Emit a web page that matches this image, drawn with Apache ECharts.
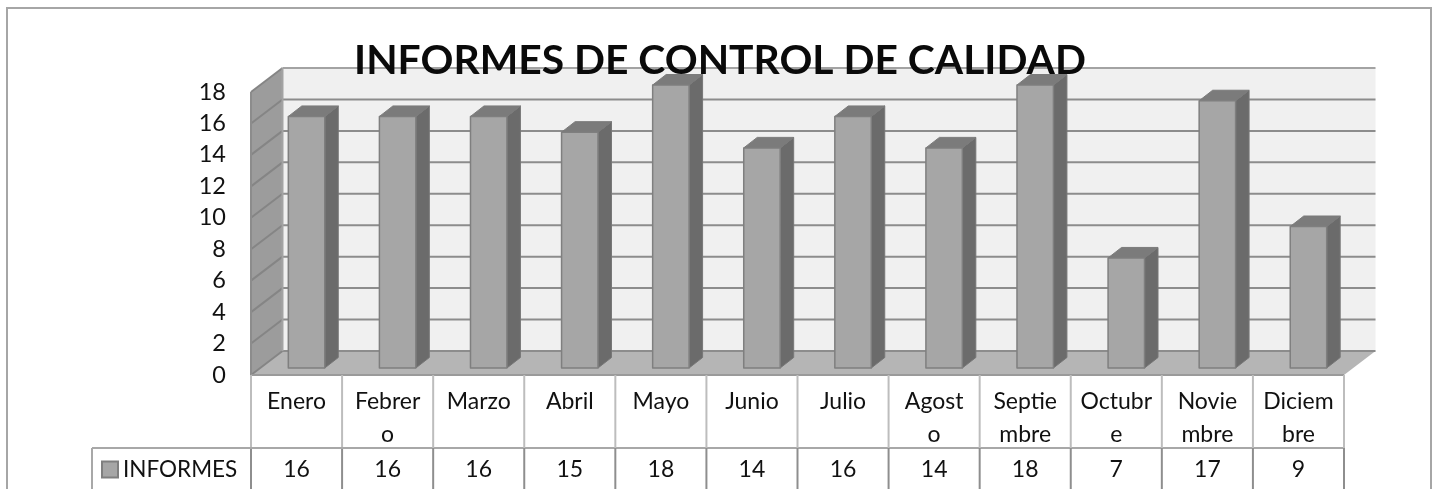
<!DOCTYPE html>
<html>
<head>
<meta charset="utf-8">
<style>html,body{margin:0;padding:0;background:#fff;overflow:hidden}#c{width:1439px;height:489px}</style>
<script src="https://cdn.jsdelivr.net/npm/echarts@6/dist/echarts.min.js"></script>
</head>
<body>
<div id="c"></div>
<script>
const chartTitle = 'INFORMES DE CONTROL DE CALIDAD';
const seriesName = 'INFORMES';
const categories = ['Enero','Febrer\no','Marzo','Abril','Mayo','Junio','Julio','Agost\no','Septie\nmbre','Octubr\ne','Novie\nmbre','Diciem\nbre'];
const informes = [16,16,16,15,18,14,16,14,18,7,17,9];
const yTicks = [0,2,4,6,8,10,12,14,16,18];

const FONT = 'Lato, sans-serif';
const WALL = {dx:31.5, dy:-24};
const BAR = {dx:13.5, dy:-10.5, ox:10, oy:-7, width:0.4};
const TABLE = {row:73, left:92};

const chart = echarts.init(document.getElementById('c'), null, {renderer:'canvas'});

function wallsItem(params, api){
  const w = api.size([1,0])[0];
  const xL = api.coord([0,0])[0] - w/2;
  const xR = api.coord([categories.length-1,0])[0] + w/2;
  const y = v => api.coord([0,v])[1];
  const y0 = y(0), yT = y(18);
  const poly = (pts, fill, stroke, lw) => ({type:'polygon', shape:{points:pts}, style:{fill, stroke:stroke||null, lineWidth:lw||0}});
  const line = (x1,y1,x2,y2,c,lw) => ({type:'line', shape:{x1,y1,x2,y2}, style:{stroke:c, lineWidth:lw||2}});
  const ch = [];
  ch.push(poly([[xL+WALL.dx,yT+WALL.dy],[xR+WALL.dx,yT+WALL.dy],[xR+WALL.dx,y0+WALL.dy],[xL+WALL.dx,y0+WALL.dy]],'#f0f0f0'));
  ch.push(poly([[xL,y0],[xL+WALL.dx,y0+WALL.dy],[xL+WALL.dx,yT+WALL.dy],[xL,yT]],'#9c9c9c'));
  ch.push(poly([[xL,y0],[xL+WALL.dx,y0+WALL.dy],[xR+WALL.dx,y0+WALL.dy],[xR,y0]],'#b5b5b5'));
  yTicks.forEach(t => {
    const yy = y(t);
    const c = t===18 ? '#a3a3a3' : '#8c8c8c';
    ch.push(line(xL+WALL.dx,yy+WALL.dy,xR+WALL.dx,yy+WALL.dy,c));
    ch.push(line(xL,yy,xL+WALL.dx,yy+WALL.dy,'#858585'));
  });
  ch.push(line(xL,yT,xL,y0,'#8c8c8c',2));
  ch.push(line(xL+WALL.dx,yT+WALL.dy,xL+WALL.dx,y0+WALL.dy,'#a3a3a3',2));
  ch.push(line(xL,y0,xR,y0,'#9a9a9a',2));
  return {type:'group', children:ch};
}

function barItem(params, api){
  const i = api.value(0), v = api.value(1);
  const c = api.coord([i,v]), b = api.coord([i,0]);
  const bw = api.size([1,0])[0]*BAR.width;
  const x1 = c[0]-bw/2+BAR.ox, x2 = c[0]+bw/2+BAR.ox;
  const yt = c[1]+BAR.oy, yb = b[1]+BAR.oy;
  const d = {stroke:'#7f7f7f', lineWidth:1.5, lineJoin:'round'};
  return {type:'group', children:[
    {type:'polygon', shape:{points:[[x2,yb],[x2+BAR.dx,yb+BAR.dy],[x2+BAR.dx,yt+BAR.dy],[x2,yt]]}, style:{fill:'#6b6b6b', stroke:'#777', lineWidth:1}},
    {type:'polygon', shape:{points:[[x1,yt],[x1+BAR.dx,yt+BAR.dy],[x2+BAR.dx,yt+BAR.dy],[x2,yt]]}, style:{fill:'#7b7b7b', stroke:'#7b7b7b', lineWidth:1}},
    {type:'rect', shape:{x:x1,y:yt,width:bw,height:yb-yt}, style:Object.assign({fill:'#a6a6a6'}, d)}
  ]};
}

function tableItem(params, api){
  const i = api.value(0);
  const c = api.coord([i,0]);
  const w = api.size([1,0])[0];
  const y0 = c[1], yR = y0+TABLE.row, H = api.getHeight();
  const vline = (x,y1,y2,col) => ({type:'line', shape:{x1:x,y1,x2:x,y2}, style:{stroke:col, lineWidth:2}});
  const kids = [
    vline(c[0]+w/2, y0, yR, '#bdbdbd'),
    vline(c[0]+w/2, yR, H, '#8e8e8e'),
    {type:'text', style:{text:String(api.value(1)), x:c[0], y:yR+22, align:'center', verticalAlign:'middle', font:'23px '+FONT, fill:'#111'}}
  ];
  if(i===0){
    kids.push(vline(c[0]-w/2, y0, yR, '#bdbdbd'));
    kids.push(vline(c[0]-w/2, yR, H, '#8e8e8e'));
    kids.push(vline(TABLE.left, yR, H, '#a8a8a8'));
    kids.push({type:'line', shape:{x1:TABLE.left,y1:yR,x2:c[0]+w*(categories.length-0.5),y2:yR}, style:{stroke:'#a8a8a8', lineWidth:2}});
  }
  return {type:'group', children:kids};
}

const points = informes.map((v,i)=>[i,v]);

chart.setOption({
  animation:false,
  backgroundColor:'#fff',
  title:{text:chartTitle, left:715, top:35, textAlign:'center', z:20,
    textStyle:{fontFamily:FONT, fontWeight:'bold', fontSize:40.8, color:'#0a0a0a'}},
  legend:{data:[seriesName], left:101, top:458, icon:'rect', itemWidth:16, itemHeight:16, itemGap:7,
    padding:0, textStyle:{fontFamily:FONT, fontSize:22.5, color:'#111'}},
  grid:{left:251, right:95, top:92, bottom:114},
  xAxis:{type:'category', data:categories,
    axisLine:{show:false}, axisTick:{show:false}, splitLine:{show:false},
    axisLabel:{interval:0, margin:10, fontFamily:FONT, fontSize:23, lineHeight:33, color:'#111', align:'center'}},
  yAxis:{type:'value', min:0, max:18, interval:2,
    axisLine:{show:false}, axisTick:{show:false}, splitLine:{show:false},
    axisLabel:{margin:25, fontFamily:FONT, fontSize:23.5, color:'#111', padding:[7,0,0,0]}},
  series:[
    {type:'custom', name:'walls', data:[[0,0]], encode:{x:0,y:1}, renderItem:wallsItem, silent:true, z:1, clip:false},
    {type:'custom', name:seriesName, data:points, encode:{x:0,y:1}, renderItem:barItem, z:3, clip:false,
      itemStyle:{color:'#a6a6a6', borderColor:'#7f7f7f', borderWidth:1.5}},
    {type:'custom', name:'table', data:points, encode:{x:0,y:1}, renderItem:tableItem, silent:true, z:2, clip:false}
  ],
  graphic:[{type:'rect', z:0, silent:true, shape:{x:7,y:8,width:1424,height:700}, style:{fill:null, stroke:'#a6a6a6', lineWidth:2}}]
});
</script>
</body>
</html>
